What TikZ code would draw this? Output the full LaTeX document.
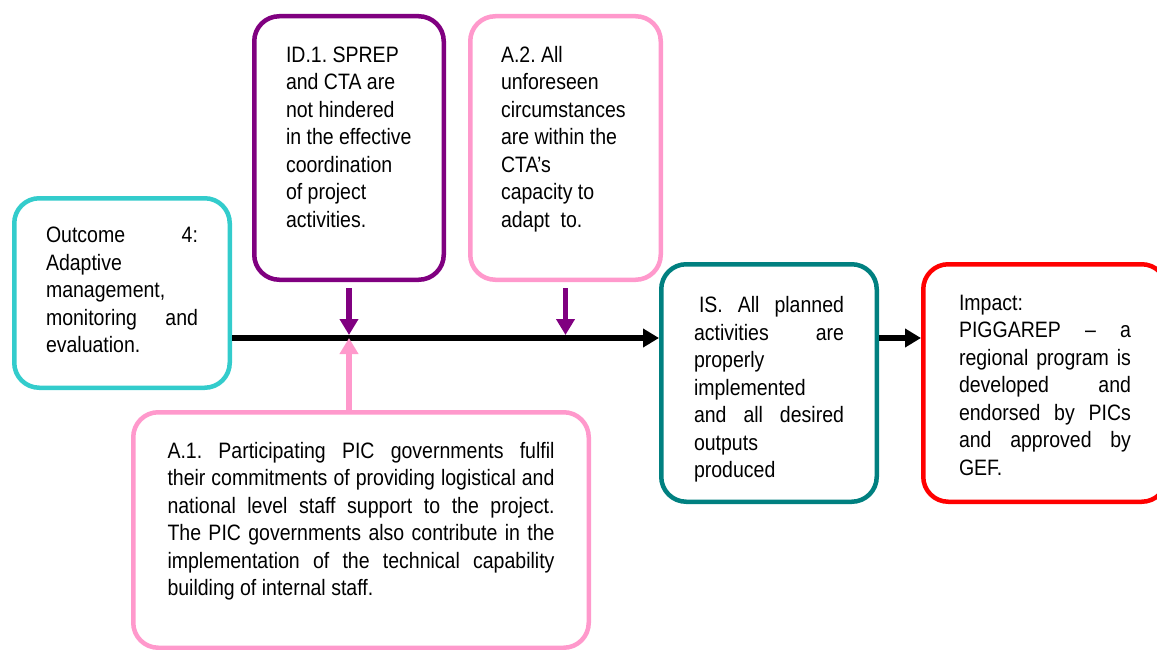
\documentclass[tikz,border=0pt]{standalone}
\usepackage{fontspec}
\setmainfont{Liberation Sans}[FakeStretch=0.875]
\usetikzlibrary{arrows.meta}
\definecolor{outcomecyan}{HTML}{33CCCC}
\definecolor{assumpurple}{HTML}{800080}
\definecolor{assumpink}{HTML}{FF99CC}
\definecolor{outputteal}{HTML}{008080}
\definecolor{impactred}{HTML}{FF0000}
\frenchspacing

\begin{document}
\begin{tikzpicture}[x=1pt,y=-1pt,
	box/.style={draw=#1,fill=white,line width=4.5pt,rounded corners=25pt,anchor=north west,
		font=\fontsize{22.3}{27.5}\selectfont},
	flow/.style={line width=5.5pt,-{Triangle[width=18pt,length=16pt]}}]
	\useasboundingbox (0,0) rectangle (1157,650);
	\node[box=outcomecyan,inner xsep=31.75pt,inner ysep=28.75pt] (outcome) at (12,196)
		{\parbox[t][132pt][t]{152pt}{Outcome 4:\linebreak Adaptive\\ management,\\ monitoring and\linebreak evaluation.}};
	\node[box=assumpurple,inner xsep=31.75pt,inner ysep=30.25pt] (id1) at (252,14)
		{\parbox[t][203pt][t]{126pt}{\raggedright ID.1. SPREP\\ and CTA are\\ not hindered\\ in the effective\\ coordination\\ of project\\ activities.}};
	\node[box=assumpink,inner xsep=30.75pt,inner ysep=29.75pt] (a2) at (468,14)
		{\parbox[t][204pt][t]{129pt}{\raggedright A.2. All\\ unforeseen\\ circumstances\\ are within the\\ CTA’s\\ capacity to\\ adapt\ \ to.}};
	\node[box=outputteal,inner xsep=32.75pt,inner ysep=32.25pt] (is) at (659,262)
		{\parbox[t][173pt][t]{150pt}{\hspace*{5pt}IS. All planned\linebreak activities are\linebreak properly\\ implemented\\ and all desired\linebreak outputs\\ produced}};
	\node[box=impactred,inner xsep=35.75pt,inner ysep=30.75pt] (impact) at (921,262)
		{\parbox[t][176pt][t]{172pt}{Impact:\\ PIGGAREP -- a\linebreak regional program is\linebreak developed and\linebreak endorsed by PICs\linebreak and approved by\linebreak GEF.}};
	\node[box=assumpink,inner xsep=34.25pt,inner ysep=30pt] (a1) at (131,410)
		{\parbox[t][175.5pt][t]{387pt}{A.1. Participating PIC governments fulfil\linebreak their commitments of providing logistical and\linebreak national level staff support to the project.\linebreak The PIC governments also contribute in the\linebreak implementation of the technical capability\linebreak building of internal staff.}};
	\coordinate (mainline) at (0,338);
	\draw[flow] (outcome.east |- mainline) -- (is.west |- mainline);
	\draw[flow] (is.east |- mainline) -- (impact.west |- mainline);
	\foreach \n in {id1,a2}{
		\draw[flow,assumpurple,shorten <=6pt,shorten >=3pt] (\n.south) -- (\n.south |- mainline);
	}
	\draw[flow,assumpink] (a1.north -| id1.south) -- (id1.south |- mainline);
\end{tikzpicture}
\end{document}
